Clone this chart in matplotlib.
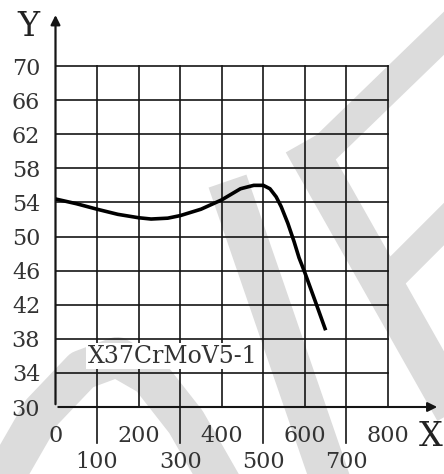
import matplotlib
matplotlib.use("Agg")
import matplotlib.pyplot as plt
from matplotlib.lines import Line2D

plt.rcParams["font.family"] = "DejaVu Serif"

# curve
temp_x = [0, 50, 100, 150, 200, 230, 270, 300, 350, 400, 445, 477, 500, 516, 531, 543,
          559, 574, 586, 600, 625, 650]
hardness = [54.4, 53.85, 53.2, 52.6, 52.2, 52.05, 52.15, 52.45, 53.2, 54.3, 55.6, 56.0,
            56.0, 55.6, 54.65, 53.5, 51.55, 49.4, 47.5, 45.75, 42.4, 39.0]

x_upper = [0, 200, 400, 600, 800]
x_lower = [100, 300, 500, 700]
y_ticks = [30, 34, 38, 42, 46, 50, 54, 58, 62, 66, 70]
grade = "X37CrMoV5-1"

W, H = 444, 474
fig = plt.figure(figsize=(W / 100, H / 100), dpi=100)
fig.patch.set_facecolor("white")


def fpx(pts):
    xs = [p[0] / W for p in pts]
    ys = [1 - p[1] / H for p in pts]
    return xs, ys


# light grey background stamp
wm = "#dcdcdc"
for pts, w in [
    ([(470, 8), (313, 160)], 31),
    ([(313, 160), (470, 438)], 40),
    ([(400, 268), (480, 188)], 30),
    ([(234, 200), (332, 485)], 40),
    ([(0, 485), (42, 412), (82, 370), (117, 357), (150, 376), (186, 422), (222, 485)], 40),
]:
    xs, ys = fpx(pts)
    fig.add_artist(Line2D(xs, ys, color=wm, lw=w * 0.72, solid_joinstyle="round",
                          solid_capstyle="projecting", zorder=0))

ax = fig.add_axes([55.5 / W, (H - 407) / H, (388 - 55.5) / W, (407 - 66) / H])
ax.set_facecolor("none")
ax.set_xlim(0, 800)
ax.set_ylim(30, 70)
for s in ax.spines.values():
    s.set_visible(False)

gc = "#151515"
for xv in range(100, 801, 100):
    ylo = 25.8 if xv in x_lower else 30
    ax.plot([xv, xv], [ylo, 70], color=gc, lw=1.2, clip_on=False, zorder=2)
for yv in y_ticks[1:]:
    ax.plot([0, 800], [yv, yv], color=gc, lw=1.2, clip_on=False, zorder=2)

# axes with arrow heads
ax.annotate("", xy=(925, 30), xytext=(0, 30), annotation_clip=False,
            arrowprops=dict(arrowstyle="-|>", color=gc, lw=1.5, mutation_scale=14))
ax.annotate("", xy=(0, 76.3), xytext=(0, 30), annotation_clip=False,
            arrowprops=dict(arrowstyle="-|>", color=gc, lw=1.6, mutation_scale=14))

ax.plot(temp_x, hardness, color="black", lw=2.6, solid_capstyle="butt",
        solid_joinstyle="round", zorder=4)

ax.text(281, 35.95, grade, fontsize=17, color="#333333", ha="center", va="center",
        zorder=3, bbox=dict(facecolor="white", edgecolor="none", pad=1.0))

tc = "#333333"
ax.set_yticks(y_ticks)
ax.set_yticklabels([str(v) for v in y_ticks], fontsize=16, color=tc)
ax.set_xticks(x_upper)
ax.set_xticklabels([str(v) for v in x_upper], fontsize=16, color=tc)
ax.set_xticks(x_lower, minor=True)
ax.set_xticklabels([str(v) for v in x_lower], minor=True, fontsize=16, color=tc)
ax.tick_params(axis="y", length=0, pad=11)
ax.tick_params(axis="x", which="major", length=0, pad=13)
ax.tick_params(axis="x", which="minor", length=0, pad=32)

fig.text(431 / W, 1 - 437 / H, "X", fontsize=24, color="#222222", ha="center", va="center")
fig.text(28 / W, 1 - 27 / H, "Y", fontsize=24, color="#222222", ha="center", va="center")

fig.savefig("out.png", dpi=100, facecolor="white")
